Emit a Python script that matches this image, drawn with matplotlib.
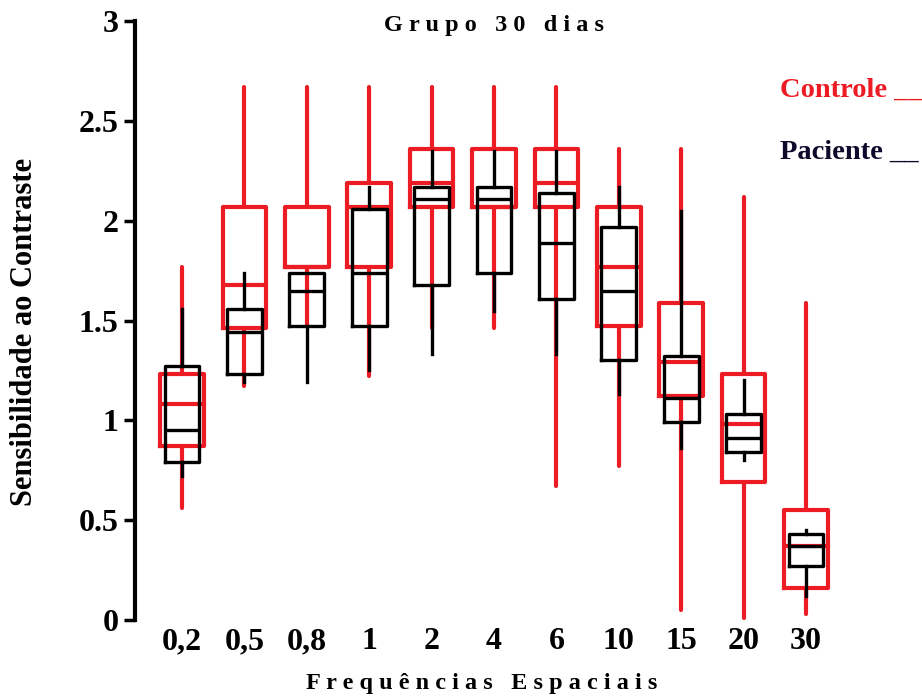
import matplotlib
matplotlib.use("Agg")
import matplotlib.pyplot as plt

freqs = ['0,2', '0,5', '0,8', '1', '2', '4', '6', '10', '15', '20', '30']

ctrl_whislo = [0.56, 1.17, 1.47, 1.22, 1.46, 1.46, 0.67, 0.77, 0.05, 0.01, 0.03]
ctrl_q1     = [0.87, 1.46, 1.77, 1.77, 2.07, 2.07, 2.07, 1.47, 1.12, 0.69, 0.16]
ctrl_med    = [1.08, 1.68, 1.77, 2.07, 2.19, 2.07, 2.19, 1.77, 1.29, 0.98, 0.37]
ctrl_q3     = [1.23, 2.07, 2.07, 2.19, 2.36, 2.36, 2.36, 2.07, 1.59, 1.23, 0.55]
ctrl_whishi = [1.77, 2.67, 2.67, 2.67, 2.67, 2.67, 2.67, 2.36, 2.36, 2.12, 1.59]

pac_whislo = [0.72, 1.19, 1.19, 1.25, 1.33, 1.55, 1.33, 1.13, 0.86, 0.80, 0.12]
pac_q1     = [0.79, 1.23, 1.47, 1.47, 1.68, 1.74, 1.61, 1.30, 0.99, 0.84, 0.27]
pac_med    = [0.95, 1.44, 1.65, 1.74, 2.11, 2.11, 1.89, 1.65, 1.11, 0.91, 0.37]
pac_q3     = [1.27, 1.56, 1.74, 2.06, 2.17, 2.17, 2.14, 1.97, 1.32, 1.03, 0.43]
pac_whishi = [1.56, 1.74, 1.74, 2.17, 2.35, 2.35, 2.35, 2.17, 2.05, 1.20, 0.45]

RED = '#ED1C24'
BLK = '#000000'
SERIF = ['Liberation Serif', 'DejaVu Serif']

def stats(lo, q1, med, q3, hi):
    return [dict(whislo=a, q1=b, med=c, q3=d, whishi=e, fliers=[])
            for a, b, c, d, e in zip(lo, q1, med, q3, hi)]

fig = plt.figure(figsize=(9.22, 6.96), dpi=100)
ax = fig.add_axes([135/922, 76/696, 1 - 135/922, 599/696])

pos = list(range(1, len(freqs) + 1))

ax.bxp(stats(ctrl_whislo, ctrl_q1, ctrl_med, ctrl_q3, ctrl_whishi),
       positions=pos, widths=0.70, showcaps=False, showfliers=False,
       boxprops=dict(color=RED, linewidth=3.0),
       whiskerprops=dict(color=RED, linewidth=3.0, solid_capstyle='round'),
       medianprops=dict(color=RED, linewidth=3.0),
       manage_ticks=False, zorder=2)

ax.bxp(stats(pac_whislo, pac_q1, pac_med, pac_q3, pac_whishi),
       positions=pos, widths=0.56, showcaps=False, showfliers=False,
       boxprops=dict(color=BLK, linewidth=2.4),
       whiskerprops=dict(color=BLK, linewidth=2.4),
       medianprops=dict(color=BLK, linewidth=2.4),
       manage_ticks=False, zorder=3)

for art in ax.get_children():
    try:
        art.set_clip_on(False)
    except Exception:
        pass

ax.set_xlim(1 - 47/62.4, 1 + (922 - 182)/62.4)
ax.set_ylim(0, 3)
ax.set_xticks(pos)
ax.set_xticklabels(freqs)
ax.set_yticks([0, 0.5, 1, 1.5, 2, 2.5, 3])
ax.set_yticklabels(['0', '0.5', '1', '1.5', '2', '2.5', '3'])

for s in ['top', 'right', 'bottom']:
    ax.spines[s].set_visible(False)
ax.spines['left'].set_linewidth(3)
ax.tick_params(axis='y', length=8, width=2.5, direction='out', pad=4)
ax.tick_params(axis='x', length=0, pad=5)
for lab in ax.get_xticklabels() + ax.get_yticklabels():
    lab.set_fontfamily(SERIF)
    lab.set_fontweight('bold')
    lab.set_fontsize(23)

fig.text(494/922, 1 - 25/696, 'G r u p o   3 0   d i a s', ha='center', va='center',
         fontsize=17.5, fontweight='bold', family=SERIF)
fig.text(482/922, 1 - 683/696, 'F r e q u ê n c i a s   E s p a c i a i s',
         ha='center', va='center', fontsize=17.5, fontweight='bold', family=SERIF)
fig.text(25/922, 1 - 332/696, 'Sensibilidade ao Contraste', rotation=90,
         ha='center', va='center', fontsize=22, fontweight='bold', family=SERIF)
fig.text(780/922, 1 - 90/696, 'Controle __', ha='left', va='center',
         fontsize=20.5, fontweight='bold', family=SERIF, color=RED)
fig.text(780/922, 1 - 152/696, 'Paciente __', ha='left', va='center',
         fontsize=20.5, fontweight='bold', family=SERIF, color='#0D0A2C')

fig.savefig('out.png', dpi=100)
